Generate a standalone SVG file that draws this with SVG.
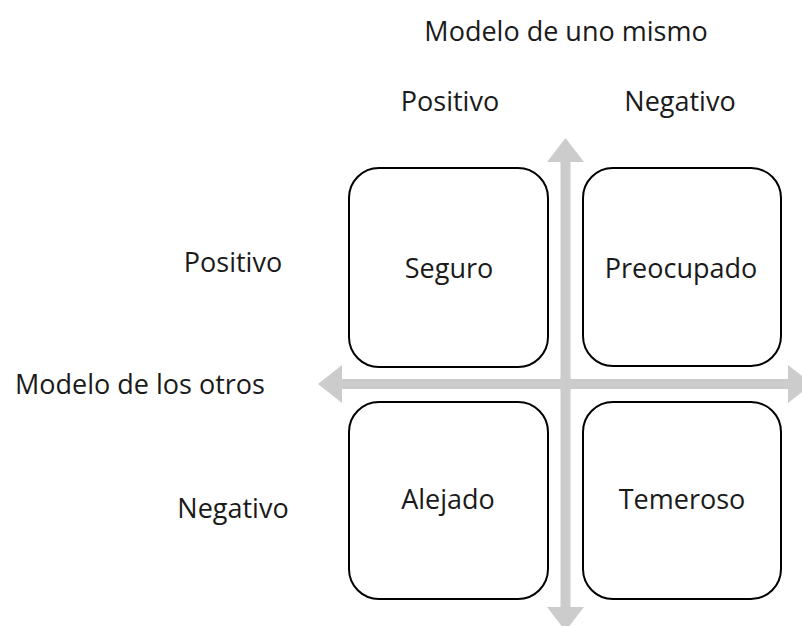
<svg xmlns="http://www.w3.org/2000/svg" width="802" height="626" viewBox="0 0 802 626">
<style>
text{font-family:"Open Sans","Noto Sans","Liberation Sans",sans-serif;font-size:27px;fill:#1a1a1a;text-anchor:middle}
.box{fill:#fff;stroke:#000;stroke-width:2}
.ax{fill:#cccccc}
</style>
<rect width="802" height="626" fill="#fff"/>
<g id="connectors">
<polygon class="ax" points="565.5,138 584,162 570.5,162 570.5,607 584,607 565.5,631 547,607 560.5,607 560.5,162 547,162"/>
<polygon class="ax" points="318,384 342,365 342,379 788,379 788,365 812,384 788,403 788,389 342,389 342,403"/>
</g>
<g id="labels">
<text x="566" y="41">Modelo de uno mismo</text>
<text x="450" y="111">Positivo</text>
<text x="680" y="111">Negativo</text>
<text x="233" y="272">Positivo</text>
<text x="140" y="394">Modelo de los otros</text>
<text x="233" y="518">Negativo</text>
</g>
<g id="seguro"><rect class="box" x="349" y="168" width="199" height="199" rx="30"/><text x="449" y="278">Seguro</text></g>
<g id="preocupado"><rect class="box" x="583" y="168" width="198" height="198" rx="30"/><text x="681" y="278">Preocupado</text></g>
<g id="alejado"><rect class="box" x="349" y="402" width="199" height="197" rx="30"/><text x="448" y="509">Alejado</text></g>
<g id="temeroso"><rect class="box" x="583" y="402" width="198" height="197" rx="30"/><text x="682" y="509">Temeroso</text></g>
</svg>
